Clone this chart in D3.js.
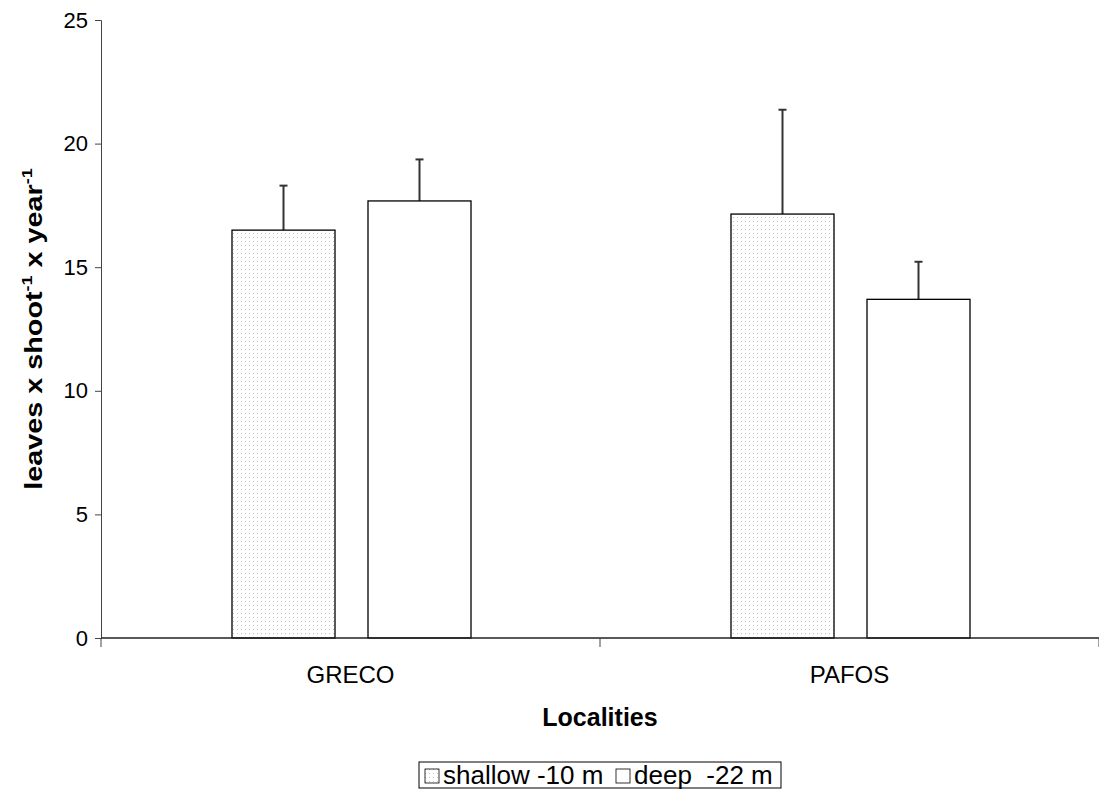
<!DOCTYPE html>
<html><head><meta charset="utf-8">
<script src="https://cdn.jsdelivr.net/npm/d3@7"></script>
<style>body{margin:0;background:#fff}svg{display:block;font-family:"Liberation Sans",Arial,sans-serif}</style>
</head><body>
<svg id="c" width="1099" height="789"></svg>
<script>
const categories = ["GRECO", "PAFOS"];
const seriesNames = ["shallow -10 m", "deep  -22 m"];
const shallowValues = [16.5, 17.15];
const shallowErrors = [1.8, 4.22];
const deepValues = [17.68, 13.7];
const deepErrors = [1.68, 1.52];
const yTicks = [0, 5, 10, 15, 20, 25];

(function(){
const svg = d3.select("#c");
const mLeft = 101, mRight = 1099, mTop = 20, mBottom = 638;
const FF = "Liberation Sans, Arial, sans-serif";

const defs = svg.append("defs");
const pat = defs.append("pattern").attr("id","dots").attr("patternUnits","userSpaceOnUse")
  .attr("width",4).attr("height",4);
pat.append("rect").attr("width",4).attr("height",4).attr("fill","#fff");
pat.append("rect").attr("x",1).attr("y",1).attr("width",1).attr("height",1).attr("fill","#c4c4c4");

const x = d3.scaleBand().domain(categories).range([mLeft, mRight]).paddingInner(0).paddingOuter(0);
const y = d3.scaleLinear().domain([0, 25]).range([mBottom, mTop]);
const x1 = d3.scaleBand().domain([0,1]).range([131, 131+103*2+33]).paddingInner(33/136);

const data = [
  {vals: shallowValues, errs: shallowErrors, fill: "url(#dots)"},
  {vals: deepValues, errs: deepErrors, fill: "#fff"}
];

// y axis
const yAxis = d3.axisLeft(y).tickValues(yTicks).tickSize(6).tickPadding(7);
const ga = svg.append("g").attr("transform",`translate(${mLeft},0)`).call(yAxis);
ga.select(".domain").attr("stroke","#444").attr("stroke-width",1);
ga.selectAll(".tick line").attr("stroke","#444");
ga.selectAll("text").attr("font-size",22).attr("fill","#000").attr("font-family",FF);

// bars
data.forEach((s, si) => {
  categories.forEach((c, ci) => {
    const bx = x(c) + x1(si), bw = x1.bandwidth();
    const v = s.vals[ci], e = s.errs[ci];
    const cx = bx + bw/2;
    svg.append("line").attr("x1",cx).attr("x2",cx).attr("y1",y(v)).attr("y2",y(v+e))
      .attr("stroke","#333").attr("stroke-width",2);
    svg.append("line").attr("x1",cx-4).attr("x2",cx+4).attr("y1",y(v+e)).attr("y2",y(v+e))
      .attr("stroke","#333").attr("stroke-width",2);
    svg.append("rect").attr("x",bx).attr("y",y(v)).attr("width",bw).attr("height",y(0)-y(v))
      .attr("fill",s.fill).attr("stroke","#000").attr("stroke-width",1.3);
  });
});

// x axis
const gx = svg.append("g").attr("transform",`translate(0,${mBottom})`);
gx.append("line").attr("x1",mLeft).attr("x2",mRight).attr("stroke","#222").attr("stroke-width",1.6);
[mLeft, ...categories.map(c => x(c) + x.bandwidth())].forEach(t => {
  gx.append("line").attr("x1",t).attr("x2",t).attr("y1",0).attr("y2",9).attr("stroke","#444");
});
categories.forEach(c => {
  gx.append("text").attr("x", x(c)+x.bandwidth()/2).attr("y",45).attr("text-anchor","middle")
    .attr("font-size",24).text(c);
});

// titles
svg.append("text").attr("x",(mLeft+mRight)/2).attr("y",726).attr("text-anchor","middle")
  .attr("font-size",25).attr("font-weight","bold").text("Localities");

const yt = svg.append("text").attr("transform","translate(42,329) rotate(-90) scale(1.2,1)").attr("text-anchor","middle")
  .attr("font-size",24).attr("font-weight","bold");
yt.append("tspan").text("leaves x shoot");
yt.append("tspan").attr("dy",-10).attr("font-size",15).text("-1");
yt.append("tspan").attr("dy",10).text(" x year");
yt.append("tspan").attr("dy",-10).attr("font-size",15).text("-1");

// legend
const lg = svg.append("g");
lg.append("rect").attr("x",419).attr("y",762).attr("width",362).attr("height",26)
  .attr("fill","#fff").attr("stroke","#000").attr("stroke-width",1);
const legItems = [{x:425, fill:"url(#dots)", tx:443, name: seriesNames[0]}, {x:616, fill:"#fff", tx:634, name: seriesNames[1]}];
legItems.forEach(li => {
  lg.append("rect").attr("x",li.x).attr("y",769).attr("width",14).attr("height",14)
    .attr("fill",li.fill).attr("stroke","#000").attr("stroke-width",0.8);
  lg.append("text").attr("x",li.tx).attr("y",784).attr("font-size",26)
    .style("white-space","pre").text(li.name);
});
})();
</script>
</body></html>
